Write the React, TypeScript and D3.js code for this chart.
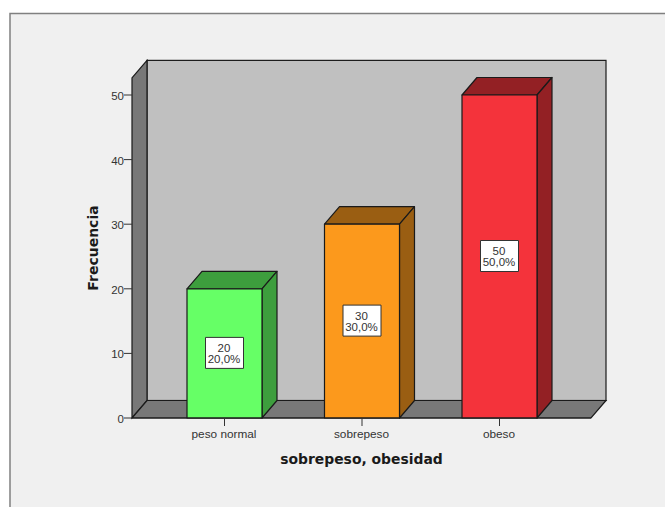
import React from "react";
import * as d3 from "d3";

const categories = ["peso normal", "sobrepeso", "obeso"];
const counts = [20, 30, 50];
const percentLabels = ["20,0%", "30,0%", "50,0%"];
const yTicks = [0, 10, 20, 30, 40, 50];
const frontColors = ["#66ff66", "#fc991c", "#f4333b"];
const sideColors = ["#3d9e3d", "#9a5e12", "#932024"];

const WIDTH = 665;
const HEIGHT = 507;
const DEPTH_X = 15;
const DEPTH_Y = 17.5;
const BAR_WIDTH = 75;
const AXIS_TOP_VALUE = 52.65;

const x = d3.scalePoint<string>().domain(categories).range([224.5, 499.5]);
const y = d3.scaleLinear().domain([0, 50]).range([418, 95]);

const floorLeft = 132;
const floorRight = 591;
const floorY = y(0);
const wallTop = y(AXIS_TOP_VALUE);

const pts = (p: [number, number][]) => p.map((q) => q.join(",")).join(" ");

export default function App() {
  return (
    <svg
      width={WIDTH}
      height={HEIGHT}
      style={{ position: "absolute", left: 0, top: 0, background: "#fff" }}
      fontFamily="'Liberation Sans', Arial, sans-serif"
    >
      {/* chart frame, open towards the right and bottom edges */}
      <rect x={10} y={13.5} width={WIDTH} height={HEIGHT} fill="#f0f0f0" stroke="#808080" strokeWidth={1.5} />

      {/* back wall, side wall and floor of the 3D box */}
      <rect
        x={floorLeft + DEPTH_X}
        y={wallTop - DEPTH_Y}
        width={floorRight - floorLeft}
        height={floorY - wallTop}
        fill="#c0c0c0"
        stroke="#1a1a1a"
        strokeWidth={1.2}
      />
      <polygon
        points={pts([
          [floorLeft, wallTop],
          [floorLeft + DEPTH_X, wallTop - DEPTH_Y],
          [floorLeft + DEPTH_X, floorY - DEPTH_Y],
          [floorLeft, floorY],
        ])}
        fill="#787878"
        stroke="#1a1a1a"
        strokeWidth={1.2}
      />
      <polygon
        points={pts([
          [floorLeft, floorY],
          [floorLeft + DEPTH_X, floorY - DEPTH_Y],
          [floorRight + DEPTH_X, floorY - DEPTH_Y],
          [floorRight, floorY],
        ])}
        fill="#787878"
        stroke="#1a1a1a"
        strokeWidth={1.2}
      />

      {/* value axis */}
      {yTicks.map((t) => (
        <g key={t}>
          <line x1={floorLeft - 8} x2={floorLeft} y1={y(t)} y2={y(t)} stroke="#333" strokeWidth={1} />
          <text x={floorLeft - 8} y={y(t) + 5} textAnchor="end" fontSize={11.5} fill="#333">
            {t}
          </text>
        </g>
      ))}

      {/* bars with front, top and side faces */}
      {categories.map((c, i) => {
        const cx = x(c) as number;
        const l = cx - BAR_WIDTH / 2;
        const r = cx + BAR_WIDTH / 2;
        const top = y(counts[i]);
        const mid = y(counts[i] / 2);
        return (
          <g key={c} stroke="#1a1a1a" strokeWidth={1.2} strokeLinejoin="round">
            <polygon
              points={pts([
                [l, top],
                [l + DEPTH_X, top - DEPTH_Y],
                [r + DEPTH_X, top - DEPTH_Y],
                [r, top],
              ])}
              fill={sideColors[i]}
            />
            <polygon
              points={pts([
                [r, top],
                [r + DEPTH_X, top - DEPTH_Y],
                [r + DEPTH_X, floorY - DEPTH_Y],
                [r, floorY],
              ])}
              fill={sideColors[i]}
            />
            <rect x={l} y={top} width={BAR_WIDTH} height={floorY - top} fill={frontColors[i]} />
            <rect x={cx - 19} y={mid - 16} width={38} height={31} fill="#fff" stroke="#333" strokeWidth={1} />
            <text x={cx - 0.5} y={mid - 1.5} textAnchor="middle" fontSize={11.5} fill="#333" stroke="none">
              {counts[i]}
            </text>
            <text x={cx - 0.5} y={mid + 9.5} textAnchor="middle" fontSize={11.5} fill="#333" stroke="none">
              {percentLabels[i]}
            </text>
          </g>
        );
      })}

      {/* baseline and category axis */}
      <line x1={floorLeft} x2={floorRight} y1={floorY} y2={floorY} stroke="#1a1a1a" strokeWidth={1.2} />
      {categories.map((c) => (
        <g key={c}>
          <line x1={x(c)} x2={x(c)} y1={floorY} y2={floorY + 8} stroke="#333" strokeWidth={1} />
          <text x={(x(c) as number) - 0.5} y={438} textAnchor="middle" fontSize={11.8} fill="#333">
            {c}
          </text>
        </g>
      ))}

      {/* axis titles */}
      <text
        x={361.5}
        y={464}
        textAnchor="middle"
        fontSize={13.9}
        fontWeight="bold"
        fontFamily="'DejaVu Sans', Verdana, sans-serif"
        fill="#1a1a1a"
      >
        sobrepeso, obesidad
      </text>
      <text
        transform="translate(98,248) rotate(-90)"
        textAnchor="middle"
        fontSize={14}
        fontWeight="bold"
        fontFamily="'DejaVu Sans', Verdana, sans-serif"
        fill="#1a1a1a"
      >
        Frecuencia
      </text>
    </svg>
  );
}
